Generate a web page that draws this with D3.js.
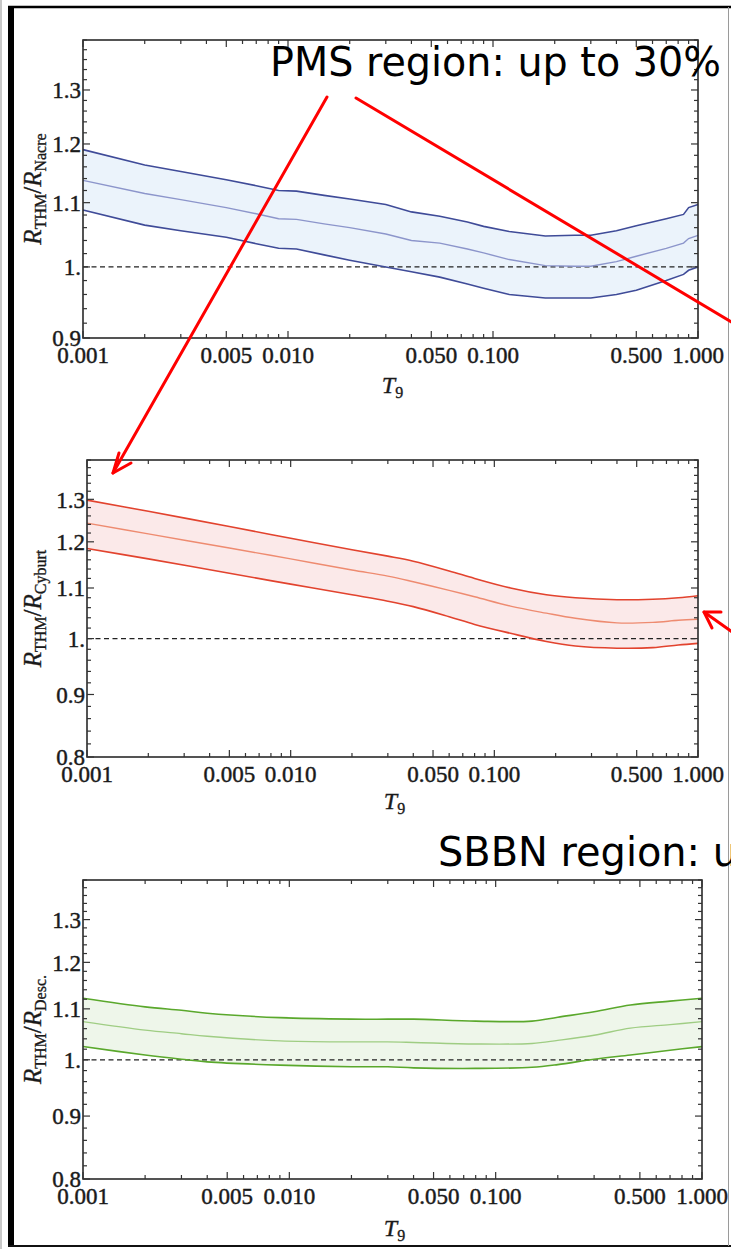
<!DOCTYPE html>
<html>
<head>
<meta charset="utf-8">
<script src="https://cdn.jsdelivr.net/npm/d3@7"></script>
<style>
  html, body { margin: 0; padding: 0; background: #fff; }
  svg { display: block; }
</style>
</head>
<body>
<svg id="fig" width="731" height="1249"></svg>
<script>
// ---- rate ratios R_THM / R_ref versus T9 (upper bound, central, lower bound) ----
const t9Nacre = [0.001, 0.002, 0.003, 0.005, 0.007, 0.009, 0.011, 0.015, 0.02, 0.03, 0.04, 0.055,
                 0.075, 0.09, 0.12, 0.18, 0.25, 0.3, 0.4, 0.5, 0.7, 0.85, 0.9, 1.0];
const nacreUpper = [1.190, 1.163, 1.152, 1.138, 1.128, 1.120, 1.119, 1.112, 1.106, 1.097, 1.085, 1.078,
                    1.069, 1.062, 1.054, 1.047, 1.048, 1.048, 1.055, 1.063, 1.074, 1.081, 1.092, 1.097];
const nacreCentral = [1.137, 1.115, 1.105, 1.092, 1.082, 1.074, 1.073, 1.066, 1.060, 1.050, 1.040, 1.036,
                      1.027, 1.021, 1.011, 1.002, 1.001, 1.001, 1.008, 1.016, 1.028, 1.036, 1.043, 1.048];
const nacreLower = [1.088, 1.064, 1.055, 1.045, 1.035, 1.028, 1.027, 1.018, 1.010, 1.000, 0.993, 0.985,
                    0.975, 0.969, 0.960, 0.955, 0.955, 0.955, 0.960, 0.966, 0.980, 0.989, 0.995, 1.000];

const t9Cyburt = [0.001, 0.002, 0.005, 0.01, 0.02, 0.03, 0.04, 0.06, 0.08, 0.12, 0.18, 0.25, 0.4, 0.6, 0.8, 1.0];
const cyburtUpper = [1.298, 1.271, 1.235, 1.208, 1.182, 1.168, 1.157, 1.136, 1.120, 1.100, 1.086, 1.080,
                     1.076, 1.077, 1.080, 1.084];
const cyburtCentral = [1.243, 1.218, 1.186, 1.162, 1.138, 1.125, 1.113, 1.095, 1.082, 1.063, 1.049, 1.039,
                       1.030, 1.031, 1.035, 1.037];
const cyburtLower = [1.185, 1.162, 1.131, 1.108, 1.086, 1.073, 1.062, 1.042, 1.027, 1.010, 0.9945, 0.986,
                     0.982, 0.983, 0.988, 0.991];

const t9Desc = [0.001, 0.002, 0.003, 0.004, 0.009, 0.02, 0.03, 0.04, 0.08, 0.15, 0.2, 0.3, 0.45, 0.7, 1.0];
const descUpper = [1.122, 1.104, 1.097, 1.091, 1.082, 1.079, 1.079, 1.079, 1.075, 1.075, 1.083, 1.094,
                   1.108, 1.116, 1.122];
const descCentral = [1.074, 1.057, 1.050, 1.045, 1.036, 1.034, 1.034, 1.033, 1.030, 1.031, 1.037, 1.047,
                     1.061, 1.068, 1.074];
const descLower = [1.025, 1.009, 1.001, 0.996, 0.990, 0.987, 0.987, 0.985, 0.984, 0.986, 0.991, 1.001,
                   1.009, 1.018, 1.025];

// ---- tick values and labels ----
const xTickValues = [0.001, 0.005, 0.01, 0.05, 0.1, 0.5, 1.0];
const xTickLabels = ["0.001", "0.005", "0.010", "0.050", "0.100", "0.500", "1.000"];
const yTickValues = [0.8, 0.9, 1.0, 1.1, 1.2, 1.3];
const yTickLabels = ["0.8", "0.9", "1.", "1.1", "1.2", "1.3"];

// ---- annotations ----
const noteTexts = ["PMS region: up to 30%", "SBBN region: u"];

// ---- layout & style ----
const smooth = d3.curveCatmullRom.alpha(0.5);
const panels = [
  { ref: "Nacre", t: t9Nacre, up: nacreUpper, mid: nacreCentral, lo: nacreLower,
    yDomain: [0.9, 1.4], box: { x0: 83, x1: 698, y0: 40, y1: 338 }, titleY: 393,
    line: "#3f4b98", midLine: "#8c95cb", fill: "#ebf3fb", curve: d3.curveLinear },
  { ref: "Cyburt", t: t9Cyburt, up: cyburtUpper, mid: cyburtCentral, lo: cyburtLower,
    yDomain: [0.8, 1.4], box: { x0: 87, x1: 698, y0: 460, y1: 757 }, titleY: 809,
    line: "#e2432e", midLine: "#ee8b70", fill: "#fbe9e9", curve: smooth },
  { ref: "Desc.", t: t9Desc, up: descUpper, mid: descCentral, lo: descLower,
    yDomain: [0.8, 1.4], box: { x0: 83, x1: 702, y0: 880, y1: 1179 }, titleY: 1236,
    line: "#5aa82c", midLine: "#9fcd83", fill: "#eef6ea", curve: smooth }
];

const serif = "'Liberation Serif', 'Times New Roman', serif";
const ink = "#1a1a1a";
const svg = d3.select("#fig");

// page frame
svg.append("rect").attr("x", 0).attr("y", 0).attr("width", 731).attr("height", 1249).attr("fill", "#fff");
svg.append("line").attr("x1", 1).attr("x2", 1).attr("y1", 0).attr("y2", 1249)
  .attr("stroke", "#c8c8c8").attr("stroke-width", 2);
svg.append("rect").attr("x", 8).attr("y", 6).attr("width", 6).attr("height", 1241).attr("fill", "#000");
svg.append("line").attr("x1", 8).attr("x2", 731).attr("y1", 7).attr("y2", 7)
  .attr("stroke", "#000").attr("stroke-width", 2.5);
svg.append("line").attr("x1", 8).attr("x2", 731).attr("y1", 1246).attr("y2", 1246)
  .attr("stroke", "#111").attr("stroke-width", 2);
svg.append("line").attr("x1", 728.5).attr("x2", 728.5).attr("y1", 7).attr("y2", 1246)
  .attr("stroke", "#9a9a9a").attr("stroke-width", 1);

// minor log ticks on x
const xMinor = [];
[0.001, 0.01, 0.1].forEach(dec => { for (let k = 1; k <= 9; k++) xMinor.push(+(k * dec).toPrecision(3)); });
xMinor.push(1.0);

panels.forEach(p => {
  const b = p.box;
  const x = d3.scaleLog().domain([0.001, 1.0]).range([b.x0, b.x1]);
  const y = d3.scaleLog().domain(p.yDomain).range([b.y1, b.y0]);
  const g = svg.append("g");

  const rows = p.t.map((t, i) => ({ t, up: p.up[i], mid: p.mid[i], lo: p.lo[i] }));

  // band
  g.append("path").datum(rows)
    .attr("d", d3.area().curve(p.curve).x(d => x(d.t)).y0(d => y(d.lo)).y1(d => y(d.up)))
    .attr("fill", p.fill).attr("stroke", "none");

  // reference line at unity
  g.append("line").attr("x1", b.x0).attr("x2", b.x1).attr("y1", y(1)).attr("y2", y(1))
    .attr("stroke", "#222").attr("stroke-width", 1.3).attr("stroke-dasharray", "5,3.5");

  const lineGen = key => d3.line().curve(p.curve).x(d => x(d.t)).y(d => y(d[key]));
  g.append("path").datum(rows).attr("d", lineGen("mid"))
    .attr("fill", "none").attr("stroke", p.midLine).attr("stroke-width", 1.4);
  ["up", "lo"].forEach(k => {
    g.append("path").datum(rows).attr("d", lineGen(k))
      .attr("fill", "none").attr("stroke", p.line).attr("stroke-width", 1.6);
  });

  // frame
  g.append("rect").attr("x", b.x0).attr("y", b.y0).attr("width", b.x1 - b.x0).attr("height", b.y1 - b.y0)
    .attr("fill", "none").attr("stroke", "#2a2a2a").attr("stroke-width", 1.6);

  // x ticks (bottom and top, inward)
  const tickG = g.append("g").attr("stroke", "#333").attr("stroke-width", 1.2);
  xMinor.forEach(v => {
    const major = xTickValues.some(m => Math.abs(m - v) < 1e-9);
    const len = major ? 7 : 4;
    const px = x(v);
    tickG.append("line").attr("x1", px).attr("x2", px).attr("y1", b.y1).attr("y2", b.y1 - len);
    tickG.append("line").attr("x1", px).attr("x2", px).attr("y1", b.y0).attr("y2", b.y0 + len);
  });
  // y ticks (left and right, inward)
  const [ylo, yhi] = p.yDomain;
  for (let v = ylo; v <= yhi + 1e-9; v += 0.02) {
    const vv = +v.toFixed(2);
    const major = yTickValues.some(m => Math.abs(m - vv) < 1e-9);
    const len = major ? 7 : 4;
    const py = y(vv);
    tickG.append("line").attr("x1", b.x0).attr("x2", b.x0 + len).attr("y1", py).attr("y2", py);
    tickG.append("line").attr("x1", b.x1).attr("x2", b.x1 - len).attr("y1", py).attr("y2", py);
  }

  // tick labels
  const lab = g.append("g").attr("font-family", serif).attr("font-size", 23)
    .attr("fill", ink).attr("stroke", ink).attr("stroke-width", 0.45);
  xTickValues.forEach((v, i) => {
    lab.append("text").attr("x", x(v)).attr("y", b.y1 + 25).attr("text-anchor", "middle").text(xTickLabels[i]);
  });
  yTickValues.forEach((v, i) => {
    if (v < ylo - 1e-9 || v > yhi + 1e-9) return;
    lab.append("text").attr("x", b.x0 - 2).attr("y", y(v)).attr("dy", "0.36em")
      .attr("text-anchor", "end").text(yTickLabels[i]);
  });

  // x title T9
  const xt = g.append("text").attr("font-family", serif).attr("fill", ink)
    .attr("stroke", ink).attr("stroke-width", 0.35)
    .attr("x", (b.x0 + b.x1) / 2 + 2).attr("y", p.titleY).attr("text-anchor", "middle");
  xt.append("tspan").attr("font-style", "italic").attr("font-size", 24).text("T");
  xt.append("tspan").attr("font-size", 16).attr("dy", 5).text("9");

  // y title R_THM / R_ref
  const cy = (b.y0 + b.y1) / 2;
  const yt = g.append("text").attr("font-family", serif).attr("fill", ink)
    .attr("stroke", ink).attr("stroke-width", 0.35)
    .attr("transform", `translate(41,${cy}) rotate(-90)`).attr("text-anchor", "middle");
  yt.append("tspan").attr("font-style", "italic").attr("font-size", 25).text("R");
  yt.append("tspan").attr("font-size", 16).attr("dy", 5).text("THM");
  yt.append("tspan").attr("font-size", 25).attr("dy", -5).text("/");
  yt.append("tspan").attr("font-style", "italic").attr("font-size", 25).text("R");
  yt.append("tspan").attr("font-size", 16).attr("dy", 5).text(p.ref);
});

// annotations
const noteFont = "'DejaVu Sans', 'Noto Sans', sans-serif";
svg.append("text").attr("x", 270).attr("y", 76).attr("font-family", noteFont).attr("font-size", 41)
  .attr("textLength", 451).attr("lengthAdjust", "spacingAndGlyphs").attr("fill", "#000").text(noteTexts[0]);
svg.append("text").attr("x", 438).attr("y", 866).attr("font-family", noteFont).attr("font-size", 41)
  .attr("textLength", 300).attr("lengthAdjust", "spacingAndGlyphs").attr("fill", "#000").text(noteTexts[1]);

const red = svg.append("g").attr("stroke", "#ff0000").attr("stroke-width", 3)
  .attr("fill", "none").attr("stroke-linecap", "round").attr("stroke-linejoin", "round");
red.append("line").attr("x1", 327).attr("y1", 97).attr("x2", 113).attr("y2", 473);
red.append("polyline").attr("points", "131,463 113,473 119,453");
red.append("line").attr("x1", 356).attr("y1", 98).attr("x2", 745).attr("y2", 330);
red.append("line").attr("x1", 704).attr("y1", 612).attr("x2", 745).attr("y2", 641);
red.append("polyline").attr("points", "721,612 704,612 712,628");
</script>
</body>
</html>
